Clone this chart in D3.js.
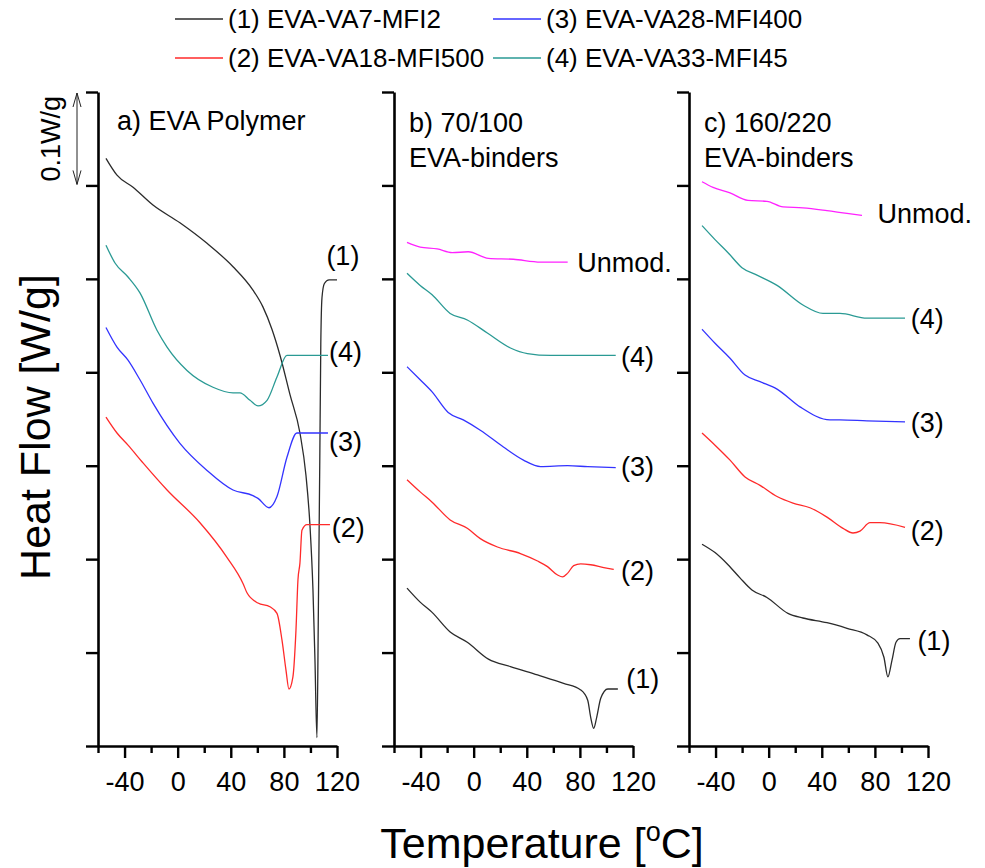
<!DOCTYPE html>
<html>
<head>
<meta charset="utf-8">
<script src="https://cdn.jsdelivr.net/npm/d3@7"></script>
<style>
  html, body { margin: 0; padding: 0; background: #fff; }
  svg text { font-family: "Liberation Sans", Arial, sans-serif; fill: #000; }
</style>
</head>
<body>
<svg id="chart" width="985" height="868"></svg>
<script>
// ---------------- DATA (Temperature °C, Heat flow W/g, curves offset) ----------------
const seriesNames = ["(1) EVA-VA7-MFI2", "(2) EVA-VA18-MFI500", "(3) EVA-VA28-MFI400", "(4) EVA-VA33-MFI45"];
const panelTitles = [["a) EVA Polymer"], ["b) 70/100", "EVA-binders"], ["c) 160/220", "EVA-binders"]];
const xMajorTicks = [-40, 0, 40, 80, 120];
const xMinorTicks = [-60, -20, 20, 60, 100];
const yTicks = [0, 0.1, 0.2, 0.3, 0.4, 0.5, 0.6, 0.7];
const scaleBar = [0.6, 0.7];   // 0.1 W/g

// Panel a) EVA polymers
const polyVA7 = [[-54,0.629],[-45.7,0.611],[-33.6,0.598],[-18.6,0.579],[1.7,0.560],[22.1,0.538],[41.7,0.513],[56.7,0.488],[64.2,0.470],[71,0.446],[77.1,0.418],[84.6,0.376],[92.1,0.335],[96.6,0.290],[99.6,0.237],[101.9,0.167],[103.4,0.092],[104.9,0.009],[106,0.15],[107,0.30],[107.8,0.43],[108.7,0.48],[110.5,0.495],[114,0.499],[120,0.499]];
const polyVA18 = [[-54,0.352],[-45.7,0.335],[-37.4,0.322],[-26.1,0.303],[-8,0.274],[16.8,0.239],[37.1,0.202],[49.2,0.174],[52.2,0.164],[60.5,0.153],[69.5,0.149],[74.8,0.142],[78.6,0.113],[81.6,0.081],[83.8,0.061],[86.8,0.074],[89.1,0.124],[90.6,0.178],[92.1,0.196],[93.6,0.231],[97.4,0.237],[114.7,0.237]];
const polyVA28 = [[-54,0.448],[-45.7,0.427],[-37.4,0.413],[-28.4,0.392],[-18.6,0.367],[1.7,0.324],[22.1,0.295],[41.7,0.274],[56.7,0.268],[60.5,0.265],[68.8,0.255],[74.8,0.267],[82.3,0.309],[89.8,0.335],[113.2,0.335]];
const polyVA33 = [[-54,0.536],[-47.2,0.517],[-37.4,0.502],[-28.4,0.485],[-15.6,0.445],[-8,0.427],[7,0.402],[26.6,0.384],[41.7,0.378],[46.9,0.378],[54.5,0.370],[60.5,0.364],[67.3,0.370],[74.8,0.395],[82.3,0.418],[113.2,0.418]];

// Panel b) 70/100 EVA-binders
const b70Unmod = [[-50.2,0.539],[-40.3,0.534],[-27.5,0.532],[-16.2,0.528],[-4.1,0.529],[11.1,0.522],[29.9,0.521],[50.4,0.518],[70.8,0.518]];
const b70VA33 = [[-50.2,0.506],[-40.3,0.493],[-31.3,0.483],[-17.7,0.463],[-4.8,0.456],[10.3,0.442],[27.7,0.426],[40.5,0.420],[57.9,0.418],[107,0.418]];
const b70VA28 = [[-50.2,0.406],[-40.3,0.392],[-31.3,0.379],[-19.2,0.357],[-7.8,0.349],[5,0.338],[22.4,0.320],[37.5,0.306],[50.4,0.299],[70.8,0.300],[85.9,0.299],[107,0.298]];
const b70VA18 = [[-50.2,0.285],[-40.3,0.272],[-31.3,0.261],[-17.7,0.242],[-4.8,0.233],[5,0.222],[17.9,0.213],[35.2,0.206],[48.1,0.198],[55.6,0.192],[63.2,0.183],[67,0.181],[70.8,0.185],[75.3,0.193],[80.6,0.195],[88.1,0.194],[98,0.191],[105.5,0.189]];
const b70VA7 = [[-50.2,0.169],[-40.3,0.154],[-31.3,0.143],[-17.7,0.122],[-4.8,0.111],[11.1,0.093],[27.7,0.085],[48.1,0.076],[67.7,0.067],[80.6,0.060],[85.9,0.049],[88.1,0.031],[90.4,0.019],[92.7,0.031],[95.7,0.051],[101,0.061],[108.6,0.061]];

// Panel c) 160/220 EVA-binders
const c160Unmod = [[-50.2,0.604],[-41.9,0.598],[-29.1,0.592],[-15.6,0.584],[-1.3,0.583],[10.8,0.577],[25.8,0.576],[43.9,0.573],[59,0.570],[70.3,0.568]];
const c160VA33 = [[-50.2,0.557],[-40.4,0.542],[-30.6,0.528],[-20.1,0.512],[-8.8,0.504],[6.3,0.493],[25.8,0.472],[40.9,0.463],[53.7,0.463],[74,0.458],[102.7,0.458]];
const c160VA28 = [[-50.2,0.446],[-40.4,0.431],[-29.1,0.415],[-17.8,0.397],[-6.5,0.390],[6.3,0.382],[23.6,0.363],[46.2,0.349],[53.7,0.349],[74,0.348],[102.7,0.347]];
const c160VA18 = [[-50.2,0.335],[-40.4,0.322],[-29.1,0.306],[-17.8,0.288],[-6.5,0.279],[6.3,0.267],[18.3,0.260],[31.1,0.255],[43.9,0.245],[56,0.233],[63.5,0.228],[68.8,0.230],[76.3,0.239],[83.8,0.239],[102.7,0.234]];
const c160VA7 = [[-50.2,0.216],[-40.4,0.207],[-30.6,0.194],[-21.6,0.180],[-12.6,0.167],[-1.3,0.159],[14.5,0.142],[25.8,0.137],[43.9,0.132],[59,0.126],[74,0.119],[82.3,0.110],[86.8,0.095],[89.8,0.074],[92.9,0.092],[95.9,0.111],[98.9,0.115],[106.4,0.115]];

// Curve labels: [text, T, heat flow] anchors (data coordinates)
const labelsA = [["(1)", 112, 0.525], ["(4)", 114, 0.423], ["(3)", 114, 0.326], ["(2)", 116, 0.234]];
const labelsB = [["Unmod.", 78, 0.518], ["(4)", 111, 0.417], ["(3)", 111, 0.299], ["(2)", 111, 0.188], ["(1)", 115, 0.073]];
const labelsC = [["Unmod.", 82, 0.570], ["(4)", 107, 0.458], ["(3)", 107, 0.347], ["(2)", 107, 0.231], ["(1)", 112, 0.113]];

// ---------------- STYLE / LAYOUT ----------------
const colors = { k: "#2b2b2b", r: "#ff2a2a", b: "#3333ff", t: "#2a9a94", m: "#ff22ff" };
const panels = [
  { x0: 98,  title: panelTitles[0], curves: [[polyVA7,"k"],[polyVA18,"r"],[polyVA28,"b"],[polyVA33,"t"]], labels: labelsA },
  { x0: 394, title: panelTitles[1], curves: [[b70Unmod,"m"],[b70VA33,"t"],[b70VA28,"b"],[b70VA18,"r"],[b70VA7,"k"]], labels: labelsB },
  { x0: 689, title: panelTitles[2], curves: [[c160Unmod,"m"],[c160VA33,"t"],[c160VA28,"b"],[c160VA18,"r"],[c160VA7,"k"]], labels: labelsC }
];
const pw = 239, plotTop = 92, plotBottom = 746;

const svg = d3.select("#chart");
const y = d3.scaleLinear().domain([0, 0.7]).range([plotBottom, plotTop]);

panels.forEach((p, i) => {
  const x = d3.scaleLinear().domain([-60, 120]).range([p.x0, p.x0 + pw]);
  const g = svg.append("g");

  // curves
  const line = d3.line().x(d => x(d[0])).y(d => y(d[1])).curve(d3.curveMonotoneX);
  p.curves.forEach(([data, c]) => {
    g.append("path").attr("d", line(data)).attr("fill", "none")
      .attr("stroke", colors[c]).attr("stroke-width", 1.3);
  });

  // y axis
  const ya = g.append("g").attr("transform", `translate(${p.x0},0)`)
    .call(d3.axisLeft(y).tickValues(yTicks).tickSize(12).tickSizeOuter(0).tickFormat(""));
  // x axis major
  const xa = g.append("g").attr("transform", `translate(0,${plotBottom})`)
    .call(d3.axisBottom(x).tickValues(xMajorTicks).tickSize(12).tickSizeOuter(0).tickPadding(14).tickFormat(d => String(d)));
  const xm = g.append("g").attr("transform", `translate(0,${plotBottom})`)
    .call(d3.axisBottom(x).tickValues(xMinorTicks).tickSize(7).tickSizeOuter(0).tickFormat(""));
  xm.select(".domain").remove();
  [ya, xa, xm].forEach(a => {
    a.selectAll("path.domain").attr("stroke", "#000").attr("stroke-width", 2.6);
    a.selectAll(".tick line").attr("stroke", "#000").attr("stroke-width", 2.4);
  });
  xa.selectAll(".tick text").attr("font-size", 27).attr("font-family", "Liberation Sans, Arial, sans-serif").attr("fill", "#000");

  // panel titles
  p.title.forEach((t, j) => {
    g.append("text").attr("x", p.x0 + (i === 0 ? 19 : 15)).attr("y", (i === 0 ? 130 : 132) + j * 35)
      .attr("font-size", 27).text(t);
  });

  // curve labels
  p.labels.forEach(([t, tx, ty]) => {
    g.append("text").attr("x", x(tx)).attr("y", y(ty)).attr("dy", "0.36em")
      .attr("font-size", 27).text(t);
  });
});

// scale bar with double arrow
const sbx = 77, sbY1 = y(scaleBar[1]), sbY0 = y(scaleBar[0]);
const sb = svg.append("g").attr("stroke", "#222").attr("stroke-width", 1).attr("fill", "none");
sb.append("line").attr("x1", sbx).attr("x2", sbx).attr("y1", sbY1 + 1).attr("y2", sbY0 - 1);
sb.append("path").attr("d", `M${sbx-4},${sbY1+15} L${sbx},${sbY1+1} L${sbx+4},${sbY1+15}`);
sb.append("path").attr("d", `M${sbx-4},${sbY0-15} L${sbx},${sbY0-1} L${sbx+4},${sbY0-15}`);
svg.append("text").attr("transform", `translate(60,${(sbY0 + sbY1) / 2}) rotate(-90)`)
  .attr("text-anchor", "middle").attr("font-size", 27).text("0.1W/g");

// axis titles
svg.append("text").attr("transform", "translate(50,427) rotate(-90)")
  .attr("text-anchor", "middle").attr("font-size", 43).text("Heat Flow [W/g]");
const xt = svg.append("text").attr("x", 542).attr("y", 858).attr("text-anchor", "middle").attr("font-size", 43);
xt.append("tspan").text("Temperature [");
xt.append("tspan").attr("font-size", 27).attr("dy", -17).text("o");
xt.append("tspan").attr("dy", 17).text("C]");

// legend
const legendPos = [[175, 19], [175, 58], [493, 19], [493, 58]];
const legendColors = ["k", "r", "b", "t"];
seriesNames.forEach((n, i) => {
  const [lx, ly] = legendPos[i];
  svg.append("line").attr("x1", lx).attr("x2", lx + 48).attr("y1", ly).attr("y2", ly)
    .attr("stroke", colors[legendColors[i]]).attr("stroke-width", 1.5);
  svg.append("text").attr("x", lx + 53).attr("y", ly).attr("dy", "0.36em").attr("font-size", 26).text(n);
});
</script>
</body>
</html>
